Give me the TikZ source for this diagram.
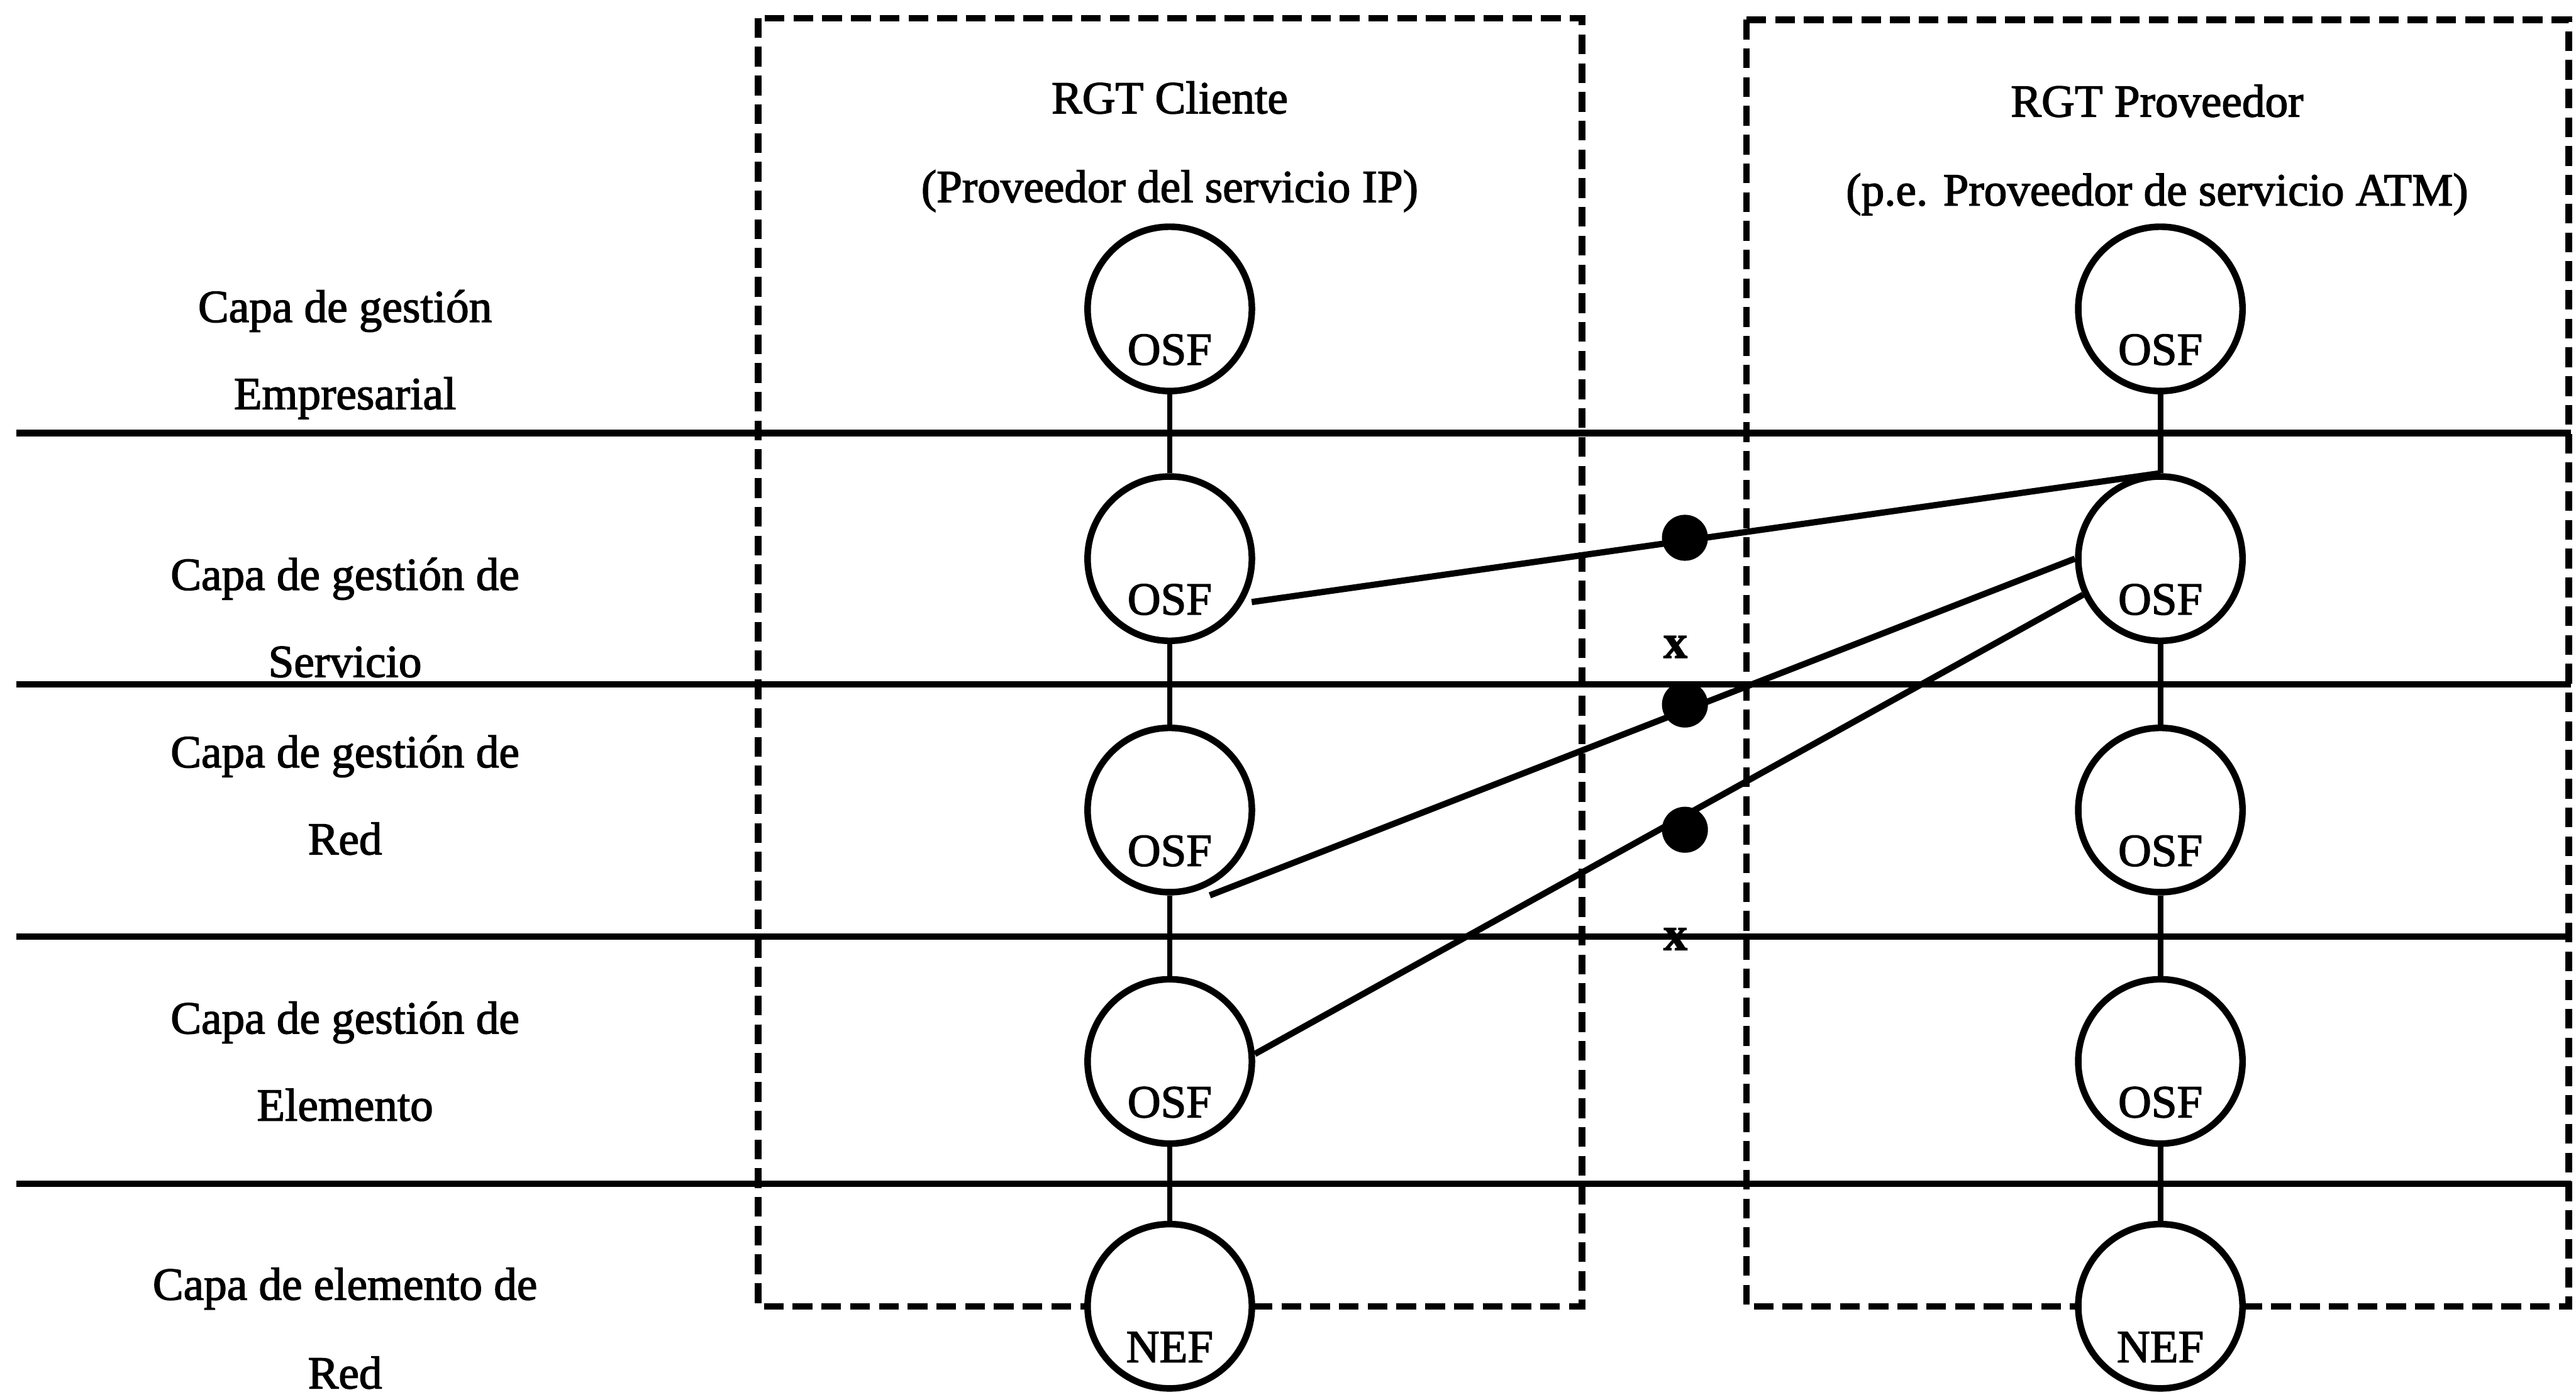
\documentclass[tikz,border=0pt]{standalone}
\usepackage{fontspec}
\setmainfont{Liberation Serif}[FakeBold=2]
% text set low inside a function circle, without changing the circle's centre
\newcommand{\lowtext}[1]{\raisebox{-34pt}[0pt][0pt]{#1}}
\begin{document}
\begin{tikzpicture}[x=1pt,y=-1pt,
  every node/.style={font=\fontsize{28}{33}\selectfont},
  layerline/.style={line width=4pt},
  domainbox/.style={line width=4pt,dash pattern=on 12pt off 5.5pt},
  fn/.style={circle,draw,line width=4pt,fill=white,minimum size=100pt,inner sep=0pt},
  vlink/.style={line width=3.4pt},
  xlink/.style={line width=3.8pt},
  conn/.style={circle,fill=black,minimum size=28pt,inner sep=0pt},
  cross/.style={font=\fontsize{29}{33}\selectfont\bfseries,inner sep=0pt},
  lbl/.style={anchor=base}]
\useasboundingbox (0,0) rectangle (1568,850);

% layer separators
\foreach \yy in {263.5,416.5,570,720.5}
  \draw[layerline] (10,\yy) -- (1565,\yy);

% management domains
\draw[domainbox] (461.5,11) rectangle (963,795);
\draw[domainbox] (1063,12) rectangle (1563.5,795);

% layer names
\node[lbl] (e1) at (210,196) {Capa de gestión};
\node[lbl] (e2) at (210,249) {Empresarial};
\node[lbl] (s1) at (210,359) {Capa de gestión de};
\node[lbl] (s2) at (210,412) {Servicio};
\node[lbl] (r1) at (210,467) {Capa de gestión de};
\node[lbl] (r2) at (210,520) {Red};
\node[lbl] (m1) at (210,629) {Capa de gestión de};
\node[lbl] (m2) at (210,682) {Elemento};
\node[lbl] (n1) at (210,791) {Capa de elemento de};
\node[lbl] (n2) at (210,845) {Red};

% domain titles
\node[lbl] (c1) at (712,69) {RGT Cliente};
\node[lbl] (c2) at (712,123) {(Proveedor del servicio IP)};
\node[lbl] (p1) at (1313,71) {RGT Proveedor};
\node[lbl] (p2) at (1313,125) {(p.e. Proveedor de servicio ATM)};

% client functions
\node[fn] (L1) at (712,188) {\lowtext{OSF}};
\node[fn] (L2) at (712,340) {\lowtext{OSF}};
\node[fn] (L3) at (712,493) {\lowtext{OSF}};
\node[fn] (L4) at (712,646) {\lowtext{OSF}};
\node[fn] (L5) at (712,795) {\lowtext{NEF}};

% provider functions
\node[fn] (R1) at (1315,188) {\lowtext{OSF}};
\node[fn] (R2) at (1315,340) {\lowtext{OSF}};
\node[fn] (R3) at (1315,493) {\lowtext{OSF}};
\node[fn] (R4) at (1315,646) {\lowtext{OSF}};
\node[fn] (R5) at (1315,795) {\lowtext{NEF}};

% links inside each domain
\draw[vlink] (L1) -- (L2);
\draw[vlink] (L2) -- (L3);
\draw[vlink] (L3) -- (L4);
\draw[vlink] (L4) -- (L5);
\draw[vlink] (R1) -- (R2);
\draw[vlink] (R2) -- (R3);
\draw[vlink] (R3) -- (R4);
\draw[vlink] (R4) -- (R5);

% inter-domain links
\draw[xlink] ([xshift=4pt,yshift=-2pt]L2.-28) -- (R2.north);
\draw[xlink] ([yshift=-6pt]L3.-62) -- (R2.west);
\draw[xlink] (L4.5) -- (R2.205);

% reference points
\node[conn] (d1) at (1025.6,327.3) {};
\node[conn] (d2) at (1025.6,428.8) {};
\node[conn] (d3) at (1025.6,505) {};

\node[cross] (x1) at (1019.8,393.7) {x};
\node[cross] (x2) at (1019.8,571.5) {x};
\end{tikzpicture}
\end{document}
